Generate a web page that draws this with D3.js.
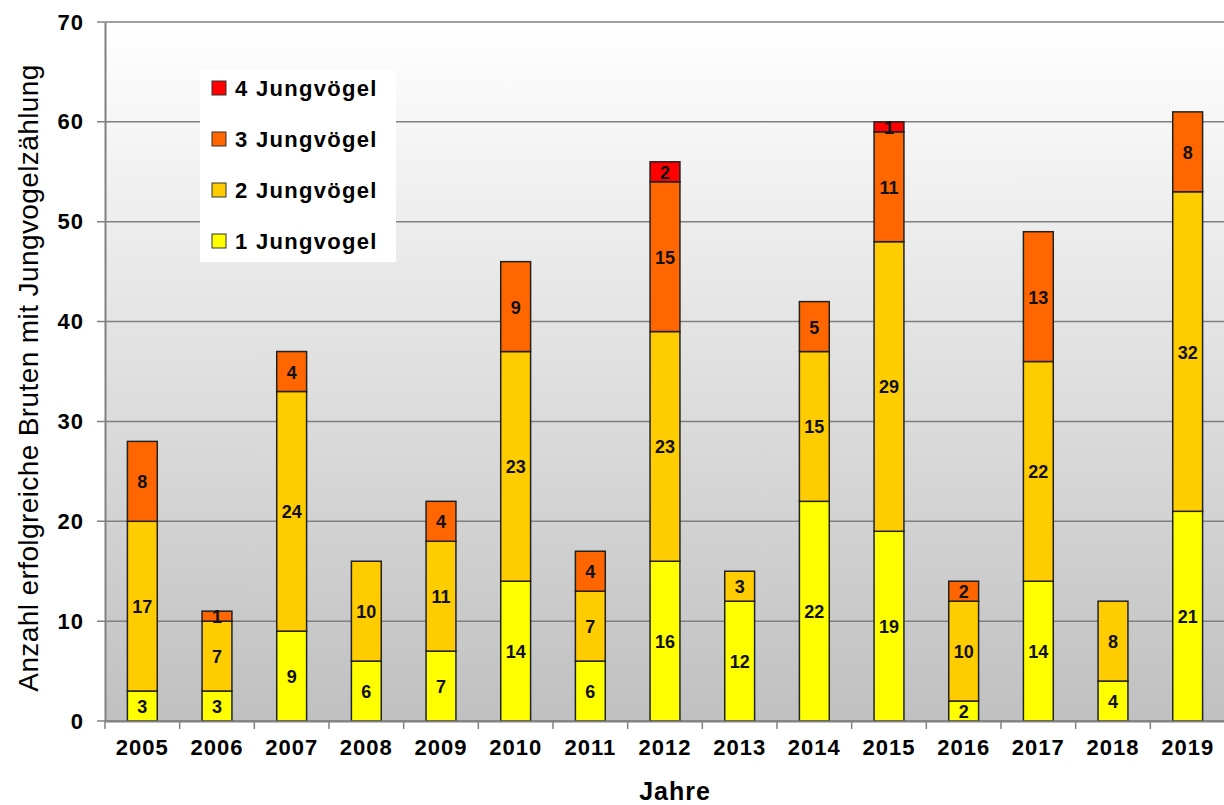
<!DOCTYPE html>
<meta charset="utf-8">
<script src="https://cdn.jsdelivr.net/npm/d3@7"></script>
<style>
body { margin: 0; background: #fff; }
text { font-family: Arial, "Liberation Sans", sans-serif; fill: #000; }
.tick text { font-size: 22px; font-weight: bold; letter-spacing: 1px; }
.seglabel { font-size: 18px; font-weight: bold; fill: #111; }
.legend text { font-size: 22px; font-weight: bold; letter-spacing: 1.3px; }
</style>
<body>
<div id="chart"></div>
<script>
var years = ["2005","2006","2007","2008","2009","2010","2011","2012","2013","2014","2015","2016","2017","2018","2019"];
var jung1 = [3, 3, 9, 6, 7, 14, 6, 16, 12, 22, 19, 2, 14, 4, 21];
var jung2 = [17, 7, 24, 10, 11, 23, 7, 23, 3, 15, 29, 10, 22, 8, 32];
var jung3 = [8, 1, 4, 0, 4, 9, 4, 15, 0, 5, 11, 2, 13, 0, 8];
var jung4 = [0, 0, 0, 0, 0, 0, 0, 2, 0, 0, 1, 0, 0, 0, 0];
var seriesNames = ["1 Jungvogel", "2 Jungvögel", "3 Jungvögel", "4 Jungvögel"];
var colors = ["#ffff00", "#ffcc00", "#ff6600", "#ff0000"];
var yTicks = [0, 10, 20, 30, 40, 50, 60, 70];

var width = 1224, height = 805;
var margin = {left: 105, right: 0, top: 22, bottom: 84};

var svg = d3.select("#chart").append("svg")
    .attr("width", width)
    .attr("height", height);

var x = d3.scaleBand()
    .domain(years)
    .range([margin.left, 1225])
    .paddingInner(0.6)
    .paddingOuter(0.3);

var y = d3.scaleLinear()
    .domain([0, 70])
    .range([height - margin.bottom, margin.top]);

// background gradient
var grad = svg.append("defs").append("linearGradient")
    .attr("id", "bg")
    .attr("x1", 0).attr("y1", 0).attr("x2", 0).attr("y2", 1);
grad.append("stop").attr("offset", "0%").attr("stop-color", "#ffffff");
grad.append("stop").attr("offset", "100%").attr("stop-color", "#c0c0c0");

svg.append("rect")
    .attr("x", margin.left)
    .attr("y", y(70))
    .attr("width", width - margin.left)
    .attr("height", y(0) - y(70))
    .attr("fill", "url(#bg)");

// grid lines
svg.append("g")
    .selectAll("line")
    .data(yTicks)
    .enter().append("line")
    .attr("x1", margin.left - 8)
    .attr("x2", width)
    .attr("y1", function(d) { return y(d); })
    .attr("y2", function(d) { return y(d); })
    .attr("stroke", "#808080")
    .attr("stroke-width", 1.5);

// stack the data
var table = years.map(function(yr, i) {
    return {year: yr, s0: jung1[i], s1: jung2[i], s2: jung3[i], s3: jung4[i]};
});
var stack = d3.stack().keys(["s0", "s1", "s2", "s3"]);
var layers = stack(table);

var layer = svg.append("g")
    .selectAll("g")
    .data(layers)
    .enter().append("g")
    .attr("fill", function(d, i) { return colors[i]; });

layer.selectAll("rect")
    .data(function(d) { return d.filter(function(p) { return p[1] - p[0] > 0; }); })
    .enter().append("rect")
    .attr("x", function(d) { return x(d.data.year); })
    .attr("width", x.bandwidth())
    .attr("y", function(d) { return y(d[1]); })
    .attr("height", function(d) { return y(d[0]) - y(d[1]); })
    .attr("stroke", "#222")
    .attr("stroke-width", 1.5);

layer.selectAll("text")
    .data(function(d) { return d.filter(function(p) { return p[1] - p[0] > 0; }); })
    .enter().append("text")
    .attr("class", "seglabel")
    .attr("text-anchor", "middle")
    .attr("x", function(d) { return x(d.data.year) + x.bandwidth() / 2; })
    .attr("y", function(d) { return (y(d[0]) + y(d[1])) / 2 + 7; })
    .text(function(d) { return d[1] - d[0]; });

// y axis
var yAxis = svg.append("g")
    .attr("transform", "translate(" + margin.left + ",0)")
    .call(d3.axisLeft(y).tickValues(yTicks).tickSize(0).tickPadding(21));
yAxis.select(".domain").attr("stroke", "#808080").attr("stroke-width", 2);

// x axis
var xAxis = svg.append("g")
    .attr("transform", "translate(0," + y(0) + ")")
    .call(d3.axisBottom(x).tickSize(0).tickPadding(18));
xAxis.select(".domain").attr("stroke", "#808080").attr("stroke-width", 2);

// tick marks between categories
svg.append("g")
    .selectAll("line")
    .data(years)
    .enter().append("line")
    .attr("x1", function(d) { return x(d) - (x.step() - x.bandwidth()) / 2; })
    .attr("x2", function(d) { return x(d) - (x.step() - x.bandwidth()) / 2; })
    .attr("y1", y(0))
    .attr("y2", y(0) + 8)
    .attr("stroke", "#808080")
    .attr("stroke-width", 1.5);

// axis titles
svg.append("text")
    .attr("x", 675)
    .attr("y", 800)
    .attr("text-anchor", "middle")
    .style("font-size", "25px")
    .style("font-weight", "bold")
    .style("letter-spacing", "1px")
    .text("Jahre");

svg.append("text")
    .attr("transform", "translate(38,378) rotate(-90)")
    .attr("text-anchor", "middle")
    .style("font-size", "28px")
    .style("letter-spacing", "0.4px")
    .text("Anzahl erfolgreiche Bruten mit Jungvogelzählung");

// legend
var legend = svg.append("g").attr("class", "legend");
legend.append("rect")
    .attr("x", 200).attr("y", 70)
    .attr("width", 196).attr("height", 192)
    .attr("fill", "#fff");

var legendOrder = [3, 2, 1, 0];
var li = legend.selectAll("g.item")
    .data(legendOrder)
    .enter().append("g")
    .attr("class", "item")
    .attr("transform", function(d, i) { return "translate(212," + (81 + i * 51) + ")"; });
li.append("rect")
    .attr("width", 14).attr("height", 14)
    .attr("fill", function(d) { return colors[d]; })
    .attr("stroke", "#333")
    .attr("stroke-width", 1);
li.append("text")
    .attr("x", 23)
    .attr("y", 15)
    .text(function(d) { return seriesNames[d]; });
</script>
</body>
